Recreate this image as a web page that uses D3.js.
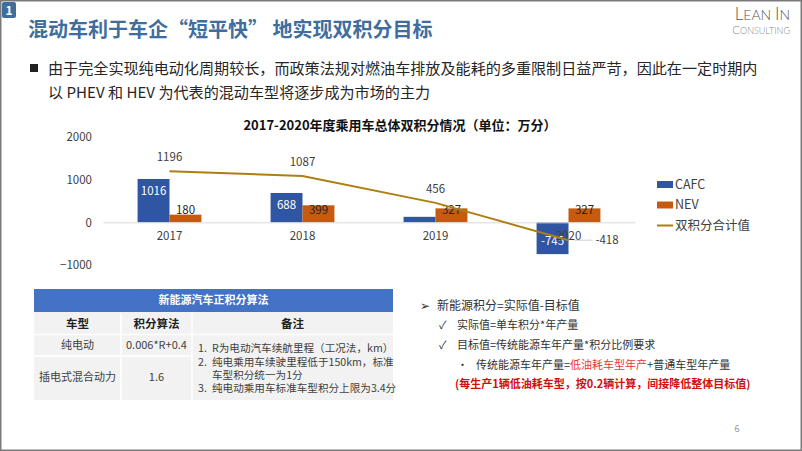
<!DOCTYPE html>
<html>
<head>
<meta charset="utf-8">
<script src="https://cdn.jsdelivr.net/npm/d3@7"></script>
<style>
  body { margin: 0; background: #fff; }
  text { font-family: "Noto Sans CJK SC", "Noto Sans", sans-serif; }
</style>
</head>
<body>
<script>
// chart data
let years = ["2017", "2018", "2019", "2020"];
let seriesNames = ["CAFC", "NEV"];
let cafcValues = [1016, 688, 129, -745];
let nevValues = [180, 399, 327, 327];
let totalValues = [1196, 1087, 456, -418];
let cafcLabelShown = [true, true, false, true];
let yTicks = [-1000, 0, 1000, 2000];
let lineName = "双积分合计值";

// table data
let tableTitle = "新能源汽车正积分算法";
let tableHeads = ["车型", "积分算法", "备注"];
let tableTypes = ["纯电动", "插电式混合动力"];
let tableFormulas = ["0.006*R+0.4", "1.6"];
let tableNotes = [
    ["1.", "R为电动汽车续航里程（工况法，km）"],
    ["2.", "纯电乘用车续驶里程低于150km，标准"],
    ["", "车型积分统一为1分"],
    ["3.", "纯电动乘用车标准车型积分上限为3.4分"]
];

let colors = {cafc: "#2F55A3", nev: "#C55A11", line: "#AD7F12", title: "#3E6D9E", text: "#404040"};

let svg = d3.select("body").append("svg")
    .attr("width", 802)
    .attr("height", 451);

// slide frame
svg.append("rect")
    .attr("x", 0.75).attr("y", 0.75)
    .attr("width", 800.5).attr("height", 449.5)
    .attr("fill", "none")
    .attr("stroke", "#7a7a7a")
    .attr("stroke-width", 1.5);

// header
svg.append("rect")
    .attr("x", 2).attr("y", 2).attr("width", 14).attr("height", 16).attr("rx", 2)
    .attr("fill", "#3E6D9E");
svg.append("text")
    .attr("x", 9).attr("y", 14.5)
    .attr("text-anchor", "middle")
    .attr("fill", "#fff").attr("font-size", 12).attr("font-weight", "bold")
    .text("1");
svg.append("text")
    .attr("x", 28).attr("y", 37)
    .attr("fill", colors.title).attr("font-size", 20).attr("font-weight", "bold")
    .text("混动车利于车企“短平快” 地实现双积分目标");

// logo
let logo1 = svg.append("text")
    .attr("x", 790).attr("y", 19.5)
    .attr("text-anchor", "end")
    .attr("fill", "#555").attr("font-weight", 300)
    .style("font-family", "Lato, sans-serif");
logo1.append("tspan").attr("font-size", 17).text("L");
logo1.append("tspan").attr("font-size", 14).text("EAN ");
logo1.append("tspan").attr("font-size", 17).text("I");
logo1.append("tspan").attr("font-size", 14).text("N");
let logo2 = svg.append("text")
    .attr("x", 790).attr("y", 33.5)
    .attr("text-anchor", "end")
    .attr("fill", "#888").attr("font-weight", 300)
    .style("font-family", "Lato, sans-serif");
logo2.append("tspan").attr("font-size", 11.5).text("C");
logo2.append("tspan").attr("font-size", 9).text("ONSULTING");

// bullet text
svg.append("rect")
    .attr("x", 30).attr("y", 64).attr("width", 8).attr("height", 8)
    .attr("fill", "#222");
svg.append("text")
    .attr("x", 48).attr("y", 73.5)
    .attr("fill", "#262626").attr("font-size", 15.1)
    .text("由于完全实现纯电动化周期较长，而政策法规对燃油车排放及能耗的多重限制日益严苛，因此在一定时期内");
svg.append("text")
    .attr("x", 48).attr("y", 98)
    .attr("fill", "#262626").attr("font-size", 15.1)
    .text("以 PHEV 和 HEV 为代表的混动车型将逐步成为市场的主力");

// chart
svg.append("text")
    .attr("x", 400).attr("y", 129.5)
    .attr("text-anchor", "middle")
    .attr("fill", "#111").attr("font-size", 13).attr("font-weight", "bold")
    .text("2017-2020年度乘用车总体双积分情况（单位：万分）");

let x = d3.scaleBand().domain(years).range([103, 635]).paddingInner(0.52).paddingOuter(0.26);
let x1 = d3.scaleBand().domain(seriesNames).range([0, x.bandwidth()]);
let y = d3.scaleLinear().domain([-1000, 2000]).range([265, 137]);

let yAxis = svg.append("g")
    .attr("transform", "translate(95,0)")
    .call(d3.axisLeft(y).tickValues(yTicks).tickFormat(d3.format("d")).tickSize(0).tickPadding(3));
yAxis.select(".domain").remove();
yAxis.selectAll("text")
    .attr("fill", colors.text).attr("font-size", 11.5)
    .style("font-family", "'Noto Sans CJK SC', sans-serif");

let rows = years.map((yr, i) => ({year: yr, cafc: cafcValues[i], nev: nevValues[i], i: i}));

// bars
rows.forEach(d => {
    svg.append("rect")
        .attr("x", x(d.year) + x1("CAFC"))
        .attr("y", y(Math.max(0, d.cafc)))
        .attr("width", x1.bandwidth())
        .attr("height", Math.abs(y(d.cafc) - y(0)))
        .attr("fill", colors.cafc);
    svg.append("rect")
        .attr("x", x(d.year) + x1("NEV"))
        .attr("y", y(Math.max(0, d.nev)))
        .attr("width", x1.bandwidth())
        .attr("height", Math.abs(y(d.nev) - y(0)))
        .attr("fill", colors.nev);
});

// bar labels
rows.forEach(d => {
    if (cafcLabelShown[d.i]) {
        let cy = d.cafc >= 0 ? y(d.cafc) + 12 : y(d.cafc) - 13;
        svg.append("text")
            .attr("x", x(d.year) + x1("CAFC") + x1.bandwidth() / 2)
            .attr("y", cy).attr("dy", "0.35em")
            .attr("text-anchor", "middle")
            .attr("fill", "#fff").attr("font-size", 11.5)
            .text(d.cafc);
    }
    svg.append("text")
        .attr("x", x(d.year) + x1("NEV") + x1.bandwidth() / 2)
        .attr("y", Math.min(y(d.nev) + 5, y(0) - 12)).attr("dy", "0.35em")
        .attr("text-anchor", "middle")
        .attr("fill", "#262626").attr("font-size", 11.5)
        .text(d.nev);
});

// x axis (zero line + year labels)
let xAxis = svg.append("g")
    .attr("transform", "translate(0," + y(0) + ")")
    .call(d3.axisBottom(x).tickSize(0).tickPadding(10));
xAxis.select(".domain").attr("stroke", "#d9d9d9");
xAxis.selectAll("text")
    .attr("fill", colors.text).attr("font-size", 11.5)
    .style("font-family", "'Noto Sans CJK SC', sans-serif");

// total line
let line = d3.line()
    .x((v, i) => x(years[i]) + x.bandwidth() / 2)
    .y(v => y(v));
svg.append("path")
    .datum(totalValues)
    .attr("d", line)
    .attr("fill", "none")
    .attr("stroke", colors.line)
    .attr("stroke-width", 2);

totalValues.forEach((v, i) => {
    let px = x(years[i]) + x.bandwidth() / 2;
    let py = y(v);
    if (i < totalValues.length - 1) {
        svg.append("text")
            .attr("x", px).attr("y", py - 14).attr("dy", "0.35em")
            .attr("text-anchor", "middle")
            .attr("fill", colors.text).attr("font-size", 11.5)
            .text(v);
    } else {
        svg.append("line")
            .attr("x1", px + 6).attr("y1", py).attr("x2", px + 24).attr("y2", py)
            .attr("stroke", "#bfbfbf").attr("stroke-width", 0.8);
        svg.append("text")
            .attr("x", px + 27).attr("y", py).attr("dy", "0.35em")
            .attr("fill", colors.text).attr("font-size", 11.5)
            .text(v);
    }
});

// legend
let legend = svg.append("g").attr("transform", "translate(657,184.5)");
[["CAFC", colors.cafc], ["NEV", colors.nev]].forEach((s, i) => {
    legend.append("rect")
        .attr("x", 0).attr("y", i * 20.5 - 3.5).attr("width", 16).attr("height", 7)
        .attr("fill", s[1]);
    legend.append("text")
        .attr("x", 18).attr("y", i * 20.5).attr("dy", "0.35em")
        .attr("fill", colors.text).attr("font-size", 12.5)
        .text(s[0]);
});
legend.append("line")
    .attr("x1", 0).attr("x2", 16).attr("y1", 41).attr("y2", 41)
    .attr("stroke", colors.line).attr("stroke-width", 2);
legend.append("text")
    .attr("x", 18).attr("y", 41).attr("dy", "0.35em")
    .attr("fill", colors.text).attr("font-size", 12.5)
    .text(lineName);

// table
let tb = svg.append("g");
tb.append("rect").attr("x", 34).attr("y", 289).attr("width", 359).attr("height", 23).attr("fill", "#4472C4");
tb.append("text")
    .attr("x", 213.5).attr("y", 300.5).attr("dy", "0.35em")
    .attr("text-anchor", "middle")
    .attr("fill", "#fff").attr("font-size", 11).attr("font-weight", "bold")
    .text(tableTitle);
tb.append("rect").attr("x", 34).attr("y", 312).attr("width", 359).attr("height", 88).attr("fill", "#f2f2f2");
[[121, 313, 121, 400], [192, 313, 192, 400], [34, 334.5, 393, 334.5], [34, 356, 192, 356]].forEach(l => {
    tb.append("line")
        .attr("x1", l[0]).attr("y1", l[1]).attr("x2", l[2]).attr("y2", l[3])
        .attr("stroke", "#fff").attr("stroke-width", 1.5);
});
let colCenters = [77.5, 156.5, 292.5];
tableHeads.forEach((h, i) => {
    tb.append("text")
        .attr("x", colCenters[i]).attr("y", 324).attr("dy", "0.35em")
        .attr("text-anchor", "middle")
        .attr("fill", "#222").attr("font-size", 11.5).attr("font-weight", "bold")
        .text(h);
});
let rowCenters = [345, 377];
tableTypes.forEach((t, i) => {
    tb.append("text")
        .attr("x", colCenters[0]).attr("y", rowCenters[i]).attr("dy", "0.35em")
        .attr("text-anchor", "middle")
        .attr("fill", colors.text).attr("font-size", 11)
        .text(t);
    tb.append("text")
        .attr("x", colCenters[1]).attr("y", rowCenters[i]).attr("dy", "0.35em")
        .attr("text-anchor", "middle")
        .attr("fill", colors.text).attr("font-size", 11)
        .text(tableFormulas[i]);
});
let noteY = [348.5, 362, 375, 388];
tableNotes.forEach((n, i) => {
    tb.append("text")
        .attr("x", 198).attr("y", noteY[i]).attr("dy", "0.35em")
        .attr("fill", colors.text).attr("font-size", 10.6)
        .text(n[0]);
    tb.append("text")
        .attr("x", 212).attr("y", noteY[i]).attr("dy", "0.35em")
        .attr("fill", colors.text).attr("font-size", 10.6)
        .text(n[1]);
});

// right side notes
let rn = svg.append("g").attr("fill", "#333").attr("font-size", 11);
rn.append("text").attr("x", 420).attr("y", 306).attr("dy", "0.35em").attr("font-size", 12).text("➢");
rn.append("text").attr("x", 437).attr("y", 306).attr("dy", "0.35em").attr("font-size", 12).text("新能源积分=实际值-目标值");
rn.append("text").attr("x", 439).attr("y", 325).attr("dy", "0.35em").attr("font-size", 11).text("✓");
rn.append("text").attr("x", 457).attr("y", 325).attr("dy", "0.35em").text("实际值=单车积分*年产量");
rn.append("text").attr("x", 439).attr("y", 345).attr("dy", "0.35em").attr("font-size", 11).text("✓");
rn.append("text").attr("x", 457).attr("y", 345).attr("dy", "0.35em").text("目标值=传统能源车年产量*积分比例要求");
rn.append("text").attr("x", 457).attr("y", 365).attr("dy", "0.35em").text("•");
let t4 = rn.append("text").attr("x", 476).attr("y", 365).attr("dy", "0.35em");
t4.append("tspan").text("传统能源车年产量=");
t4.append("tspan").attr("fill", "#E53935").text("低油耗车型年产");
t4.append("tspan").text("+普通车型年产量");
rn.append("text").attr("x", 455).attr("y", 384.5).attr("dy", "0.35em")
    .attr("fill", "#D01010").attr("font-weight", "bold")
    .text("(每生产1辆低油耗车型，按0.2辆计算，间接降低整体目标值)");

svg.append("text")
    .attr("x", 737).attr("y", 429).attr("dy", "0.35em")
    .attr("text-anchor", "middle")
    .attr("fill", "#999").attr("font-size", 9)
    .text("6");
</script>
</body>
</html>
